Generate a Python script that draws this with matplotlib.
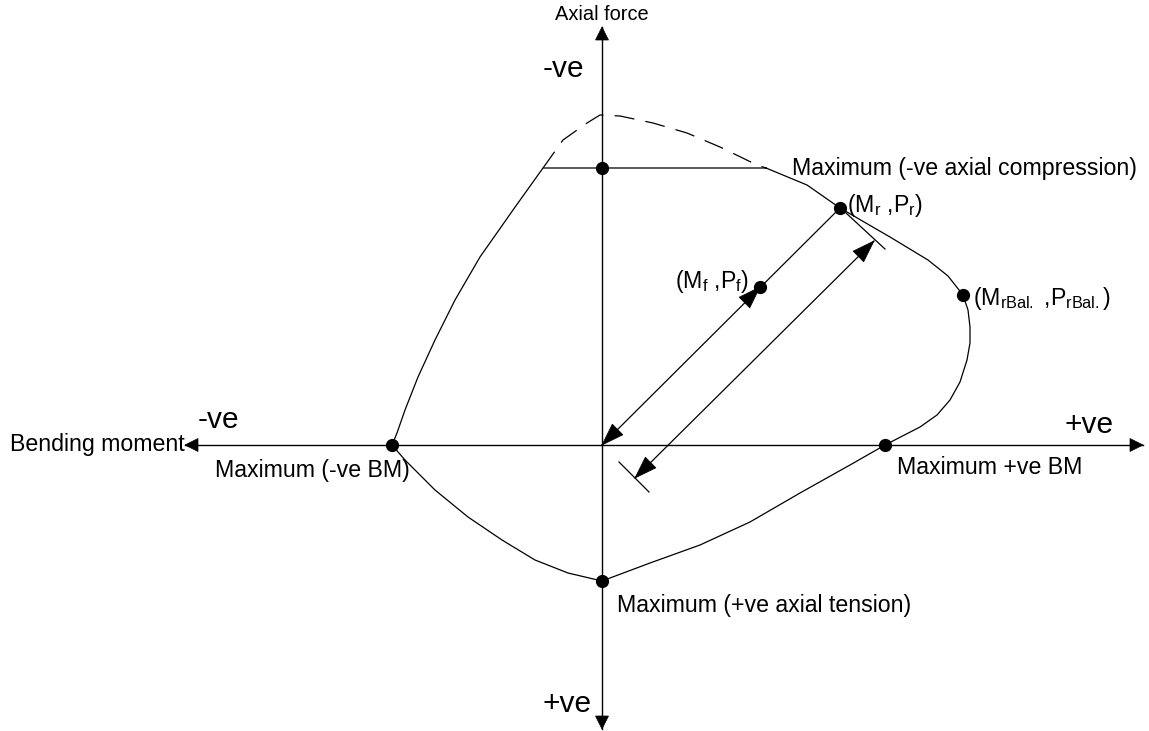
import numpy as np
import matplotlib
matplotlib.use('Agg')
import matplotlib.pyplot as plt
import matplotlib.patches as patches

# diagram, in image pixels (x right, y down)
origin = (602, 445)
x_axis_m = [185, 1143]
y_axis_p = [27, 729]

# interaction envelope (solid), starting at the right end of the cap line
env_m = [766, 807, 840, 890, 928, 948, 963, 968, 970, 970, 967, 960, 950, 937, 920, 885,
         850, 800, 750, 700, 650, 602, 568, 535, 502, 468, 435, 405, 392,
         397, 405, 418, 435, 455, 480, 513, 543, 766]
env_p = [168, 185, 208, 237, 260, 276, 295, 310, 327, 343, 360, 382, 400, 415, 427, 445,
         465, 493, 522, 545, 563, 581, 573, 560, 540, 517, 490, 460, 445,
         433, 410, 377, 340, 300, 257, 210, 168, 168]

# theoretical envelope above the cap (dashed)
dash_m = [543, 563, 587, 600, 620, 653, 687, 720, 757, 766]
dash_p = [168, 140, 123, 115, 116, 123, 133, 147, 165, 168]

# marked points
pt_m = [602, 840, 760, 963, 885, 602, 392]
pt_p = [168, 208, 287, 295, 445, 581, 445]

mr = (840, 208)
mf = (760, 287)
dim_ends = [(635, 478), (874, 241)]
ticks = [((619, 462), (649, 492)), ((846, 213), (885, 249))]

fs_big = 21.5
fs_lab = 16.7
fs_axis = 14.4
font = 'Liberation Sans'

plt.rcParams['font.family'] = [font, 'DejaVu Sans']
plt.rcParams['mathtext.default'] = 'regular'

fig = plt.figure(figsize=(11.49, 7.31), dpi=100)
ax = fig.add_axes([0, 0, 1, 1])
ax.set_xlim(0, 1149)
ax.set_ylim(731, 0)
ax.axis('off')


def head(tip, tail, length, width):
    tip = np.array(tip, float)
    u = tip - np.array(tail, float)
    u = u / np.hypot(*u)
    n = np.array([-u[1], u[0]])
    base = tip - u * length
    tri = [tip, base + n * width / 2, base - n * width / 2]
    ax.add_patch(patches.Polygon(tri, closed=True, facecolor='black', edgecolor='black', lw=0.5, zorder=4))


# axes
ax.plot(x_axis_m, [origin[1], origin[1]], color='black', lw=1.0)
ax.plot([origin[0], origin[0]], y_axis_p, color='black', lw=1.0)
head((x_axis_m[0], origin[1]), origin, 13, 13)
head((x_axis_m[1], origin[1]), origin, 13, 13)
head((origin[0], y_axis_p[0]), origin, 13, 13)
head((origin[0], y_axis_p[1]), origin, 13, 13)

# envelope
ax.plot(env_m, env_p, color='black', lw=0.9, solid_joinstyle='round')
ax.plot(dash_m, dash_p, color='black', lw=0.9, dashes=(16, 9))

# load line and dimension line
ax.plot([mr[0], origin[0]], [mr[1], origin[1]], color='black', lw=0.9)
head(origin, mr, 22, 15)
head(mf, origin, 22, 15)
ax.plot([dim_ends[0][0], dim_ends[1][0]], [dim_ends[0][1], dim_ends[1][1]], color='black', lw=0.9)
head(dim_ends[0], dim_ends[1], 22, 15)
head(dim_ends[1], dim_ends[0], 22, 15)
for a, b in ticks:
    ax.plot([a[0], b[0]], [a[1], b[1]], color='black', lw=0.9)

ax.plot(pt_m, pt_p, 'o', color='black', markersize=8.5, zorder=5)

# texts
ax.text(origin[0], 20, 'Axial force', fontsize=fs_axis, ha='center', va='baseline')
ax.text(10, 451, 'Bending moment', fontsize=fs_lab, ha='left', va='baseline')
ax.text(543, 77, '-ve', fontsize=fs_big, ha='left', va='baseline')
ax.text(198, 428, '-ve', fontsize=fs_big, ha='left', va='baseline')
ax.text(1065, 433, '+ve', fontsize=fs_big, ha='left', va='baseline')
ax.text(542, 712, '+ve', fontsize=fs_big, ha='left', va='baseline')

ax.text(792, 175, 'Maximum (-ve axial compression)', fontsize=fs_lab, ha='left', va='baseline')
ax.text(847, 212, '(M$_{r}$ ,P$_{r}$)', fontsize=fs_lab, ha='left', va='baseline')
ax.text(749, 288, '(M$_{f}$ ,P$_{f}$)', fontsize=fs_lab, ha='right', va='baseline')
ax.text(973, 305, '(M$_{rBal.}$ ,P$_{rBal.}$)', fontsize=fs_lab, ha='left', va='baseline')
ax.text(215, 477, 'Maximum (-ve BM)', fontsize=fs_lab, ha='left', va='baseline')
ax.text(897, 474, 'Maximum +ve BM', fontsize=fs_lab, ha='left', va='baseline')
ax.text(617, 612, 'Maximum (+ve axial tension)', fontsize=fs_lab, ha='left', va='baseline')

fig.savefig('out.png', dpi=100)
